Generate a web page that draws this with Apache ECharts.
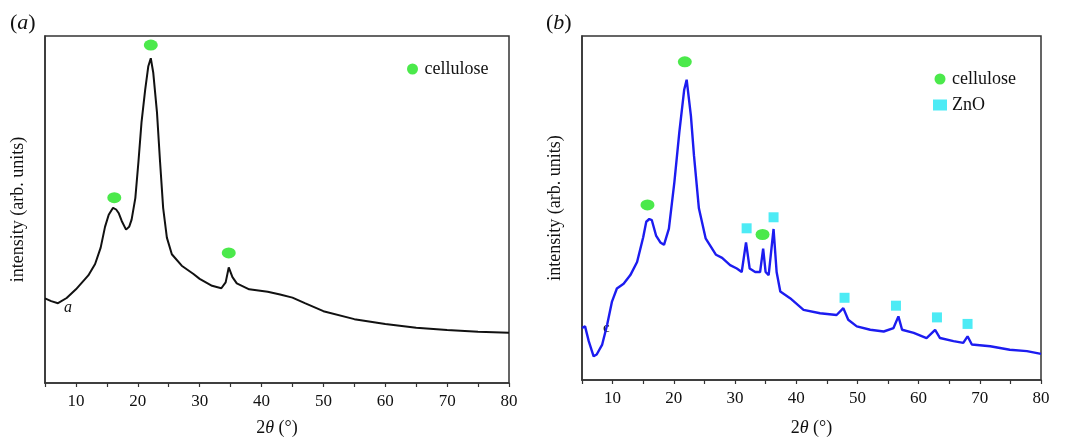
<!DOCTYPE html>
<html>
<head>
  <meta charset="utf-8" />
  <title>XRD</title>
  <script src="https://cdn.jsdelivr.net/npm/echarts@6/dist/echarts.min.js"></script>
  <style>
    body { margin: 0; padding: 0; background: #fff; }
    #chart { width: 1068px; height: 442px; }
  </style>
</head>
<body>
  <div id="chart"></div>
  <script>
    // panel (a): cellulose [2theta, intensity 0..100]
    var curveA = [
      [5, 24.4], [6, 23.6], [7.1, 23], [8.5, 24.5], [10, 27], [12, 31], [13.1, 34.3], [14, 39],
      [14.7, 45], [15.3, 48.5], [16, 50.5], [16.5, 50], [16.9, 49], [17.4, 46.7], [18.1, 44.2],
      [18.6, 45], [19, 47.1], [19.6, 53.3], [20.1, 63.7], [20.6, 75.1], [21.2, 84.6],
      [21.7, 91.3], [22.1, 93.6], [22.5, 89.4], [23.1, 78], [23.6, 63.7], [24.1, 50.4],
      [24.7, 41.9], [25.5, 37.1], [27.1, 33.8], [29, 31.4], [30, 30], [32, 28], [33.5, 27.3],
      [34.2, 29], [34.7, 33.3], [35.3, 30.5], [36, 28.7], [38, 27], [41, 26.3], [43, 25.5],
      [45, 24.6], [47, 23], [50, 20.7], [55, 18.4], [60, 17], [65, 15.9], [70, 15.3],
      [75, 14.8], [80, 14.5]
    ];
    var celluloseA = [[16.2, 53.4], [22.1, 97.4], [34.7, 37.5]];

    // panel (b): cellulose + ZnO
    var curveB = [
      [5, 15.1], [5.5, 15.6], [6.1, 11.3], [6.9, 6.9], [7.4, 7.4], [8.3, 10.3], [9.1, 16],
      [9.9, 22.8], [10.7, 26.6], [11.8, 28], [12.9, 30.5], [14, 34.3], [15, 41.5],
      [15.5, 46], [16, 46.8], [16.4, 46.5], [17.1, 42], [17.8, 40], [18.4, 39.3], [19.2, 44],
      [20.1, 57.6], [20.9, 72], [21.7, 84.4], [22.1, 87.3], [22.8, 76.7], [23.3, 65.2],
      [24.1, 49.9], [25.2, 41.2], [26.9, 36.4], [27.9, 35.5], [29.2, 33.4],
      [30.3, 32.4], [31.1, 31.4], [31.8, 40], [32.4, 32.4], [33.3, 31.4], [34.1, 31.4],
      [34.6, 38.2], [35, 31.4], [35.5, 30.5], [36.3, 43.9], [36.8, 31.4], [37.4, 25.7],
      [39, 23.8], [41.2, 20.4], [43.9, 19.4], [46.6, 18.9], [47.7, 20.9], [48.5, 17.5],
      [49.9, 15.6], [52.1, 14.6], [54.3, 14.1], [55.9, 15.1], [56.7, 18.5], [57.3, 14.6],
      [59.2, 13.7], [61.3, 12.2], [62.7, 14.6], [63.5, 12.2], [65.7, 11.3], [67.3, 10.8],
      [68, 12.7], [68.7, 10.3], [71.7, 9.8], [74.9, 8.8], [77.7, 8.4], [80, 7.6]
    ];
    var celluloseB = [[15.7, 50.9], [21.8, 92.5], [34.5, 42.3]];
    var znoB = [[31.9, 44.1], [36.3, 47.3], [47.9, 23.9], [56.3, 21.6], [63.0, 18.2], [68.0, 16.3]];

    var xTicks = { min: 5, max: 80, interval: 5 };

    var serif = 'Liberation Serif';
    var ellipse = 'path://M0 5a5 5 0 1 0 10 0a5 5 0 1 0 -10 0z';
    var green = '#1ee41e';
    var cyan = '#20e6f2';

    function xAxis(idx, gap) {
      return {
        type: 'value', gridIndex: idx, min: xTicks.min, max: xTicks.max, interval: xTicks.interval,
        name: '2{i|θ} (°)', nameLocation: 'middle', nameGap: gap,
        nameTextStyle: {
          fontFamily: serif, fontSize: 18, color: '#111',
          rich: { i: { fontFamily: serif, fontStyle: 'italic', fontSize: 18, color: '#111' } }
        },
        axisLine: { lineStyle: { color: '#333', width: 1.5 } },
        axisTick: { length: 4, lineStyle: { color: '#333', width: 1.2 } },
        axisLabel: {
          fontFamily: serif, fontSize: 17, color: '#111', margin: 10,
          formatter: function (v) { return v % 10 === 0 ? v : ''; }
        },
        splitLine: { show: false }
      };
    }

    function yAxis(idx) {
      return {
        type: 'value', gridIndex: idx, min: 0, max: 100,
        name: 'intensity (arb. units)', nameLocation: 'middle', nameRotate: 90, nameGap: 18,
        nameTextStyle: { fontFamily: serif, fontSize: 18, color: '#111' },
        axisLine: { show: true, lineStyle: { color: '#333', width: 1.5 } },
        axisTick: { show: false },
        axisLabel: { show: false },
        splitLine: { show: false }
      };
    }

    var chart = echarts.init(document.getElementById('chart'), null, { renderer: 'canvas' });

    chart.setOption({
      animation: false,
      backgroundColor: '#fff',
      grid: [
        { left: 45, top: 36, width: 464, height: 351, show: true, borderColor: '#333', borderWidth: 1.5 },
        { left: 582, top: 36, width: 459, height: 347, show: true, borderColor: '#333', borderWidth: 1.5 }
      ],
      xAxis: [xAxis(0, 36), xAxis(1, 39)],
      yAxis: [yAxis(0), yAxis(1)],
      legend: [
        {
          left: 402, top: 55, itemWidth: 14, itemHeight: 11, itemGap: 10,
          data: [{ name: 'cellulose', icon: ellipse }],
          textStyle: { fontFamily: serif, fontSize: 18, color: '#111' },
          selectedMode: false
        },
        {
          left: 928, top: 65, orient: 'vertical', itemWidth: 14, itemHeight: 11, itemGap: 8,
          data: [{ name: 'cellulose', icon: ellipse }, { name: 'ZnO', icon: 'rect' }],
          textStyle: { fontFamily: serif, fontSize: 18, color: '#111' },
          selectedMode: false
        }
      ],
      series: [
        {
          name: 'a', type: 'line', xAxisIndex: 0, yAxisIndex: 0, data: curveA,
          showSymbol: false, lineStyle: { color: '#111', width: 2 }, z: 2
        },
        {
          name: 'cellulose', type: 'scatter', xAxisIndex: 0, yAxisIndex: 0, data: celluloseA,
          symbol: ellipse, symbolSize: [14, 11], itemStyle: { color: green }, z: 3
        },
        {
          name: 'b', type: 'line', xAxisIndex: 1, yAxisIndex: 1, data: curveB,
          showSymbol: false, lineStyle: { color: '#1c1cf0', width: 2.4 }, z: 2
        },
        {
          name: 'cellulose', type: 'scatter', xAxisIndex: 1, yAxisIndex: 1, data: celluloseB,
          symbol: ellipse, symbolSize: [14, 11], itemStyle: { color: green }, z: 3
        },
        {
          name: 'ZnO', type: 'scatter', xAxisIndex: 1, yAxisIndex: 1, data: znoB,
          symbol: 'rect', symbolSize: 10, itemStyle: { color: cyan }, z: 3
        }
      ],
      graphic: [
        {
          type: 'text', left: 10, top: 12,
          style: {
            text: '({i|a})', font: '22px "Liberation Serif"', fill: '#111',
            rich: { i: { fontStyle: 'italic', fontFamily: serif, fontSize: 22, fill: '#111' } }
          }
        },
        {
          type: 'text', left: 546, top: 12,
          style: {
            text: '({i|b})', font: '22px "Liberation Serif"', fill: '#111',
            rich: { i: { fontStyle: 'italic', fontFamily: serif, fontSize: 22, fill: '#111' } }
          }
        },
        { type: 'text', left: 64, top: 300, style: { text: 'a', font: 'italic 16px "Liberation Serif"', fill: '#111' } },
        { type: 'text', left: 603, top: 321, style: { text: 'c', font: '15px "Liberation Serif"', fill: '#111' } }
      ]
    });
  </script>
</body>
</html>
